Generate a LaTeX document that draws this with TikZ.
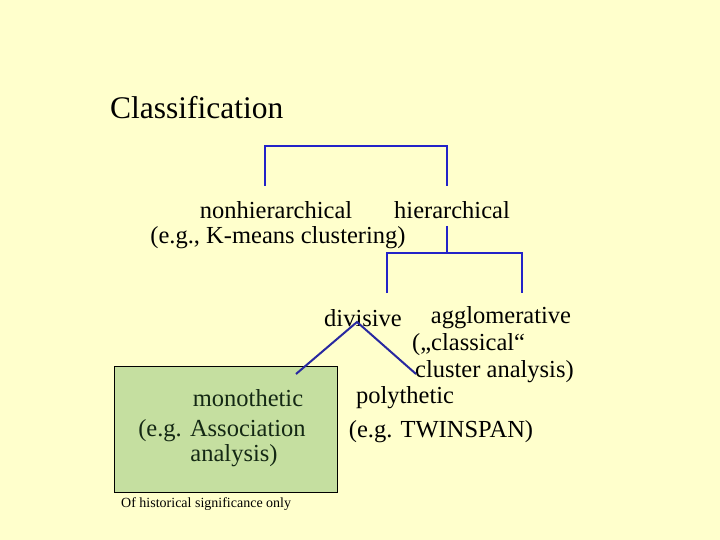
\documentclass[tikz,border=0pt]{standalone}
\usepackage{fontspec}
\setmainfont{Liberation Serif}
\begin{document}
\begin{tikzpicture}[x=1pt,y=1pt,yscale=-1,xscale=1]
%set diagram left start at 0, and has height of 540
\fill [color={rgb, 255:red, 255; green, 255; blue, 204 }] (0,0) rectangle (720,540) ;
\useasboundingbox (0,0) rectangle (720,540) ;

%Shape: Rectangle [id:box]
\draw [fill={rgb, 255:red, 197; green, 223; blue, 160 }, line width=0.8] (114,366) rectangle (337,492) ;

% Text Node
\draw (110,108) node [anchor=west, inner sep=0pt, font=\fontsize{31.5}{33}\selectfont] (title) {Classification};
% Text Node
\draw (276,210) node [font=\fontsize{24.5}{26}\selectfont] (nonhier) {nonhierarchical};
% Text Node
\draw (452,210) node [font=\fontsize{24.5}{26}\selectfont] (hier) {hierarchical};
% Text Node
\draw (278,238) node [font=\fontsize{24.5}{26}\selectfont] (kmeans) {(e.g., K-means clustering)};
% Text Node
\draw (363,318) node [font=\fontsize{24.5}{26}\selectfont] (divis) {divisive};
% Text Node
\draw (501,318) node [font=\fontsize{24.5}{26}\selectfont] (agglo) {agglomerative};
% Text Node
\draw (412,345) node [anchor=west, inner sep=0pt, font=\fontsize{24.5}{26}\selectfont] (classic) {(„classical“};
% Text Node
\draw (415,372) node [anchor=west, inner sep=0pt, font=\fontsize{24.5}{26}\selectfont] (clust) {cluster analysis)};
% Text Node
\draw (248,398) node [font=\fontsize{24.5}{26}\selectfont, color={rgb, 255:red, 20; green, 40; blue, 20 }] (mono) {monothetic};
% Text Node
\draw (222,431) node [font=\fontsize{24.5}{26}\selectfont, color={rgb, 255:red, 20; green, 40; blue, 20 }] (assoc) {(e.g. Association};
% Text Node
\draw (234,456) node [font=\fontsize{24.5}{26}\selectfont, color={rgb, 255:red, 20; green, 40; blue, 20 }] (anal) {analysis)};
% Text Node
\draw (405,398) node [font=\fontsize{24.5}{26}\selectfont] (poly) {polythetic};
% Text Node
\draw (441,432) node [font=\fontsize{24.5}{26}\selectfont] (twin) {(e.g. TWINSPAN)};
% Text Node
\draw (121,504) node [anchor=west, inner sep=0pt, font=\fontsize{14}{15}\selectfont] (note) {Of historical significance only};

%Coordinates of the brackets
\coordinate (a1) at (265,186) ; \coordinate (a2) at (265,146) ;
\coordinate (a3) at (447,146) ; \coordinate (a4) at (447,186) ;
\coordinate (b0) at (447,226) ; \coordinate (b1) at (447,253) ;
\coordinate (b2) at (387,253) ; \coordinate (b3) at (387,293) ;
\coordinate (b4) at (522,253) ; \coordinate (b5) at (522,293) ;
\coordinate (c0) at (357,322) ; \coordinate (c1) at (296,374) ;
\coordinate (c2) at (416,374) ;

%Straight Lines [id:bracket1]
\draw [color={rgb, 255:red, 35; green, 35; blue, 200 }, line width=2.4] (a1) -- (a2) -- (a3) -- (a4) ;
%Straight Lines [id:bracket2]
\draw [color={rgb, 255:red, 35; green, 35; blue, 200 }, line width=2.4] (b0) -- (b1) ;
\draw [color={rgb, 255:red, 35; green, 35; blue, 200 }, line width=2.4] (b3) -- (b2) -- (b4) -- (b5) ;
%Straight Lines [id:split]
\draw [color={rgb, 255:red, 40; green, 40; blue, 160 }, line width=2] (c1) -- (c0) -- (c2) ;

\end{tikzpicture}
\end{document}
